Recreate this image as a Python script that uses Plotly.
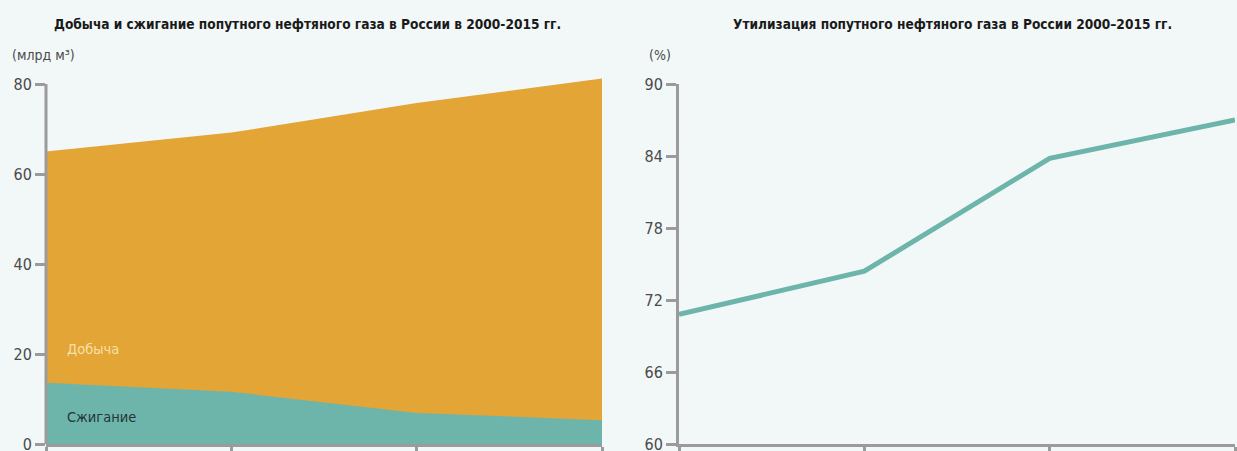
import plotly.graph_objects as go

# Годы наблюдений
years = [2000, 2005, 2010, 2015]

# Добыча и сжигание попутного нефтяного газа, млрд м³
production = [65.0, 69.2, 75.8, 81.2]
flaring = [13.6, 11.6, 6.9, 5.3]

# Уровень утилизации ПНГ, %
utilization = [70.8, 74.4, 83.8, 87.0]

left_ticks = [0, 20, 40, 60, 80]
right_ticks = [60, 66, 72, 78, 84, 90]

ORANGE = "#e2a536"
TEAL = "#6db5ab"
BG = "#f2f8f8"
AXIS = "#9b9b9b"
FAMILY = "DejaVu Sans Condensed, Roboto, sans-serif"
TICKFONT = dict(family=FAMILY, size=16, color="#4a4a4a")
UNITFONT = dict(family=FAMILY, size=14, color="#4a4a4a")
TITLEFONT = dict(family=FAMILY, size=13.6, color="#1a1a1a")

fig = go.Figure()

fig.add_trace(go.Scatter(
    x=years, y=production, mode="lines", line=dict(width=0, color=ORANGE),
    fill="tozeroy", fillcolor=ORANGE, xaxis="x", yaxis="y", hoverinfo="skip",
))
fig.add_trace(go.Scatter(
    x=years, y=flaring, mode="lines", line=dict(width=0, color=TEAL),
    fill="tozeroy", fillcolor=TEAL, xaxis="x", yaxis="y", hoverinfo="skip",
))
fig.add_trace(go.Scatter(
    x=years, y=utilization, mode="lines", line=dict(width=5, color=TEAL),
    xaxis="x2", yaxis="y2", hoverinfo="skip",
))

axis_common = dict(
    showgrid=False, zeroline=False, linecolor=AXIS, linewidth=3,
    ticks="outside", ticklen=10, tickwidth=2.5, tickcolor=AXIS,
    tickfont=TICKFONT, automargin=False, ticklabeloverflow="allow",
)

W, H = 1237, 451
ml, mr, mt, mb = 46, 2, 75, 7
pw = W - ml - mr
ph = H - mt - mb
left_top = 82.0
# вертикальный масштаб левого графика, пикселей на единицу
px_per_unit = ph / left_top
right_top_frac = 80 * px_per_unit / ph

fig.update_layout(
    width=W, height=H, template="none",
    paper_bgcolor=BG, plot_bgcolor=BG, showlegend=False,
    margin=dict(l=ml, r=mr, t=mt, b=mb),
    xaxis=dict(domain=[0, (602 - ml) / pw], range=[2000, 2015], showline=True,
               tickvals=years, showticklabels=False, **axis_common),
    yaxis=dict(range=[0, left_top], tickvals=left_ticks, anchor="x",
               showline=False, **axis_common),
    xaxis2=dict(domain=[(679 - ml) / pw, 1], range=[2000, 2015], showline=True,
                tickvals=years, showticklabels=False, anchor="y2", **axis_common),
    yaxis2=dict(domain=[0, right_top_frac], range=[60, 90], tickvals=right_ticks,
                anchor="x2", showline=True, **axis_common),
    shapes=[
        # ось Y левого графика заканчивается на отметке 80
        dict(type="line", xref="x domain", yref="y", x0=0, x1=0, y0=0, y1=80,
             line=dict(color=AXIS, width=3), layer="above"),
    ],
    annotations=[
        dict(text="<b>Добыча и сжигание попутного нефтяного газа в России в 2000-2015 гг.</b>",
             xref="paper", yref="paper", x=(307 - ml) / pw, y=1, yshift=51,
             xanchor="center", yanchor="middle", showarrow=False, font=TITLEFONT),
        dict(text="<b>Утилизация попутного нефтяного газа в России 2000–2015 гг.</b>",
             xref="paper", yref="paper", x=(952 - ml) / pw, y=1, yshift=51,
             xanchor="center", yanchor="middle", showarrow=False, font=TITLEFONT),
        dict(text="(млрд м³)", xref="paper", yref="paper", x=(10 - ml) / pw, y=1,
             yshift=20, xanchor="left", yanchor="middle", showarrow=False, font=UNITFONT),
        dict(text="(%)", xref="paper", yref="paper", x=(647 - ml) / pw, y=1,
             yshift=20, xanchor="left", yanchor="middle", showarrow=False, font=UNITFONT),
        dict(text="Добыча", xref="x", yref="y", x=2000.5, y=21.1,
             xanchor="left", yanchor="middle", showarrow=False,
             font=dict(family=FAMILY, size=14.5, color="#f7e0a8")),
        dict(text="Сжигание", xref="x", yref="y", x=2000.5, y=6,
             xanchor="left", yanchor="middle", showarrow=False,
             font=dict(family=FAMILY, size=14.5, color="#243636")),
    ],
)

fig.write_html("out.html")
